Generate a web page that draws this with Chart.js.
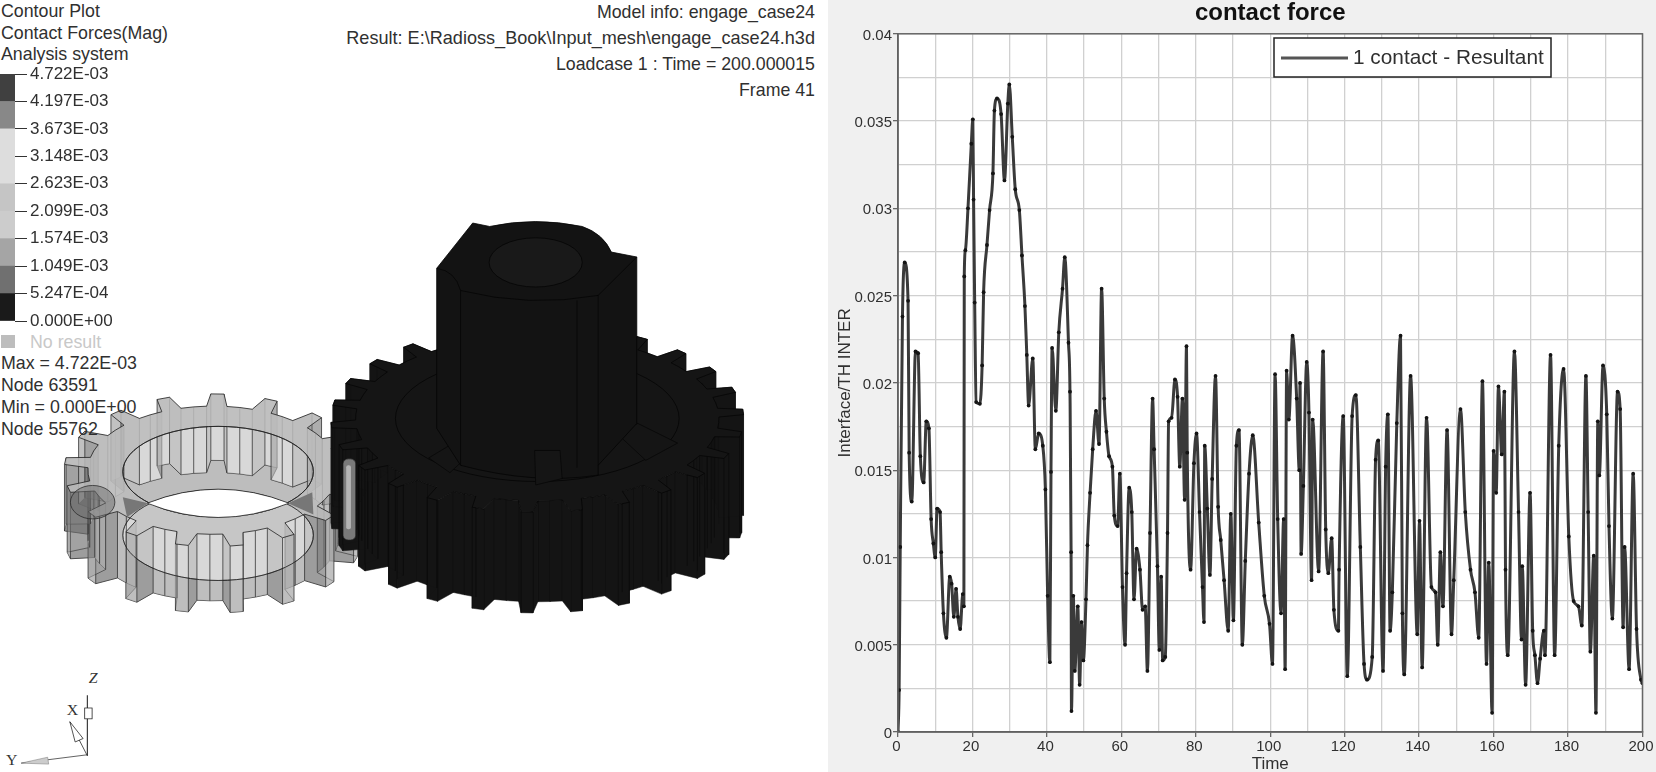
<!DOCTYPE html>
<html>
<head>
<meta charset="utf-8">
<script src="https://cdn.jsdelivr.net/npm/chart.js@4/dist/chart.umd.min.js"></script>
<style>
html, body { margin: 0; padding: 0; background: #fff; }
#page { position: relative; width: 1656px; height: 772px; overflow: hidden; font-family: "Liberation Sans", Arial, sans-serif; color: #303030; }
#rightPanel { position: absolute; left: 828px; top: 0; width: 828px; height: 772px; background: #f0f0f0; }
#forceChart { position: absolute; left: 828px; top: 0; }
#scaleChart { position: absolute; left: 0; top: 60px; }
#gears { position: absolute; left: 0; top: 0; }
.t { position: absolute; font-size: 17.8px; line-height: 20px; white-space: nowrap; }
.r { right: 841px; font-size: 17.75px; }
</style>
</head>
<body>
<div id="page">
  <svg id="gears" width="830" height="772" viewBox="0 0 1568 1568" preserveAspectRatio="none"></svg>
  <div class="t" style="left:1px;top:1px">Contour Plot</div>
  <div class="t" style="left:1px;top:23px">Contact Forces(Mag)</div>
  <div class="t" style="left:1px;top:44px">Analysis system</div>
  <div class="t" style="left:30px;top:332px;color:#c8c8c8">No result</div>
  <div style="position:absolute;left:1px;top:335px;width:14px;height:13px;background:#bdbdbd"></div>
  <div class="t" style="left:1px;top:353px">Max = 4.722E-03</div>
  <div class="t" style="left:1px;top:375px">Node 63591</div>
  <div class="t" style="left:1px;top:397px">Min = 0.000E+00</div>
  <div class="t" style="left:1px;top:419px">Node 55762</div>
  <div class="t r" style="top:2px">Model info: engage_case24</div>
  <div class="t r" style="top:28px;font-size:18.1px">Result: E:\Radioss_Book\Input_mesh\engage_case24.h3d</div>
  <div class="t r" style="top:54px">Loadcase 1 : Time = 200.000015</div>
  <div class="t r" style="top:80px">Frame 41</div>
  <canvas id="scaleChart" width="130" height="275"></canvas>
  <div id="rightPanel"></div>
  <canvas id="forceChart" width="828" height="772"></canvas>
</div>
<script>
var timeValues = [0,0.3,0.6,1.2,1.8,2.7,3,3.7,4.7,5.4,6,6.9,7.6,8.3,8.9,9.5,10,10.5,11.3,11.6,12.2,13,13.9,14.4,15,15.6,16.1,16.7,17.4,17.7,17.8,18.1,18.8,19.7,20.1,20.3,20.6,21,22,22.6,23,23.9,24.6,25.5,25.9,26.6,27.7,28.6,29.5,29.9,30.7,31.5,32.6,33.3,34.1,34.6,35.1,36.2,36.9,37.8,38.9,39.6,40.2,40.8,41.1,41.4,42.4,43.2,44.2,44.8,45.8,46.2,46.5,46.6,47.1,47.5,48.3,48.8,49.3,49.8,50.5,50.9,51.6,52.3,53.2,54,54.7,55.4,56,56.7,57.6,58.1,59,59.6,60.3,61,61.4,62.1,62.8,63.4,64.1,65,65.7,66.4,67,67.7,68.4,68.8,69.7,70.2,70.7,71.1,71.8,72.4,72.7,73.5,74.4,75.1,75.7,76.4,77,77.5,77.7,78.6,79.5,80.2,81,81.8,82.2,82.4,83.1,83.8,84.4,85.3,86,86.7,87.6,88.7,89.4,90.1,90.9,91.6,92.5,93.3,94.3,95.3,96.9,98.4,99.8,100.6,101.3,102,102.9,103.6,104,104.4,105,106,107.1,107.8,108,108.3,108.9,109.8,110.4,111.1,111.4,113,114.2,114.9,115.6,116.5,117.1,118.3,118.5,119.6,120.7,122,123,124.2,125.2,126,127.4,128.3,129,130.3,131,131.6,132.2,132.8,134,135,135.5,136,137.7,139.5,140.1,140.8,142,143.3,144.4,145,145.7,146.4,147.5,148.7,149.3,151.1,152.4,153.8,155,156,157,158.1,158.7,159.6,160,160.7,161.3,162.2,162.9,163.2,163.8,165.6,166.7,167.5,167.7,168.6,169.8,170.5,171.1,171.8,172.5,173.5,173.8,175.3,176.4,177.5,178.8,180.2,181.5,182.8,183.7,184.8,185.4,186,186.9,187.5,188,188.4,189.4,190.4,191,191.9,193.3,194,194.8,195.2,196.4,197.5,198.4,199.6,200];
var contactForce = [0,0.0024,0.0106,0.0238,0.0269,0.0247,0.016,0.0132,0.0218,0.0217,0.0158,0.0143,0.0178,0.0174,0.0122,0.0108,0.01,0.0128,0.0126,0.0103,0.0068,0.0054,0.0089,0.0085,0.0066,0.0082,0.0066,0.0059,0.0079,0.0072,0.0261,0.0276,0.03,0.0337,0.0351,0.0305,0.0246,0.0189,0.0188,0.021,0.0252,0.0279,0.0299,0.032,0.0356,0.0363,0.0354,0.0316,0.036,0.0371,0.0341,0.0311,0.0299,0.0273,0.0244,0.0216,0.0187,0.0214,0.0162,0.0171,0.0164,0.0139,0.0078,0.004,0.0149,0.022,0.0184,0.0229,0.0254,0.0272,0.0223,0.0195,0.0103,0.0012,0.0078,0.0035,0.0072,0.0027,0.0063,0.0041,0.0076,0.0107,0.0137,0.0162,0.0184,0.0165,0.0254,0.0191,0.0172,0.0158,0.0152,0.0124,0.0118,0.0148,0.0083,0.005,0.0091,0.014,0.0126,0.0076,0.0105,0.0093,0.007,0.0072,0.0035,0.0114,0.0191,0.0162,0.0095,0.0047,0.0089,0.0041,0.0043,0.0114,0.0178,0.018,0.0202,0.0192,0.0152,0.0191,0.0133,0.0221,0.016,0.0093,0.0154,0.0171,0.0126,0.0083,0.0063,0.0164,0.0128,0.009,0.0145,0.0204,0.0129,0.011,0.0087,0.0058,0.0125,0.0064,0.0164,0.0173,0.005,0.0098,0.0148,0.017,0.012,0.0078,0.0062,0.0039,0.0205,0.0122,0.0068,0.0122,0.0036,0.0207,0.0179,0.0227,0.0191,0.015,0.02,0.0102,0.0141,0.0212,0.0183,0.0087,0.0179,0.0092,0.0218,0.0116,0.0091,0.0111,0.007,0.0058,0.0093,0.0181,0.0032,0.0181,0.0193,0.0106,0.0039,0.003,0.0043,0.0156,0.0167,0.0035,0.0152,0.0182,0.0058,0.008,0.0177,0.0227,0.0068,0.0033,0.0204,0.0056,0.0121,0.0037,0.018,0.0083,0.008,0.005,0.0103,0.0072,0.0173,0.0056,0.0087,0.0185,0.0126,0.0093,0.008,0.0054,0.0201,0.0039,0.0097,0.0011,0.0161,0.0137,0.0198,0.0159,0.0195,0.0093,0.0044,0.0218,0.0126,0.0053,0.0095,0.0027,0.0137,0.0058,0.0044,0.0028,0.0042,0.0058,0.0044,0.0216,0.0044,0.0164,0.0208,0.0112,0.0075,0.0072,0.0061,0.0204,0.0126,0.0046,0.0101,0.0011,0.0178,0.0147,0.021,0.0182,0.0118,0.0065,0.0195,0.0185,0.006,0.0106,0.0036,0.0148,0.0059,0.003,0.0028];
var xTickLabels = ['0','20','40','60','80','100','120','140','160','180','200'];
var yTickLabels = ['0','0.005','0.01','0.015','0.02','0.025','0.03','0.035','0.04'];
var scaleLevels = [0,0.0005247,0.001049,0.001574,0.002099,0.002623,0.003148,0.003673,0.004197,0.004722];
var scaleLabels = ['0.000E+00','5.247E-04','1.049E-03','1.574E-03','2.099E-03','2.623E-03','3.148E-03','3.673E-03','4.197E-03','4.722E-03'];
var scaleColors = ['#1a1a1a','#707070','#a5a5a5','#cccccc','#c5c5c5','#dddddd','#dddddd','#888888','#404040'];

var plotFrame = {
    id: 'plotFrame',
    beforeDraw: function(chart) {
        var a = chart.chartArea, ctx = chart.ctx;
        ctx.save();
        ctx.fillStyle = '#fff';
        ctx.fillRect(a.left, a.top, a.width, a.height);
        ctx.restore();
    },
    afterDraw: function(chart) {
        var a = chart.chartArea, ctx = chart.ctx;
        ctx.save();
        ctx.strokeStyle = '#666';
        ctx.lineWidth = 1.5;
        ctx.strokeRect(a.left, a.top, a.width, a.height);
        // legend box sits inside the plot
        var bx = 446, by = 38, bw = 277, bh = 39;
        ctx.fillStyle = '#fff';
        ctx.fillRect(bx, by, bw, bh);
        ctx.strokeStyle = '#222';
        ctx.strokeRect(bx, by, bw, bh);
        ctx.strokeStyle = '#555';
        ctx.lineWidth = 3;
        ctx.beginPath();
        ctx.moveTo(bx + 7, by + 20);
        ctx.lineTo(bx + 74, by + 20);
        ctx.stroke();
        ctx.fillStyle = '#303030';
        ctx.font = '20.8px "Liberation Sans", Arial, sans-serif';
        ctx.textBaseline = 'middle';
        ctx.fillText(chart.data.datasets[0].label, bx + 79, by + 20);
        ctx.restore();
    }
};

new Chart(document.getElementById('forceChart'), {
    type: 'line',
    data: {
        datasets: [{
            label: '1 contact - Resultant',
            data: timeValues.map(function(t, i) { return { x: t, y: contactForce[i] }; }),
            borderColor: '#3a3a3a',
            borderWidth: 3,
            borderJoinStyle: 'round',
            cubicInterpolationMode: 'monotone',
            pointRadius: 1.9,
            pointBackgroundColor: '#141414',
            pointBorderWidth: 0
        }]
    },
    options: {
        responsive: false,
        animation: false,
        layout: { padding: { right: 12 } },
        plugins: {
            legend: { display: false },
            title: {
                display: true,
                fullSize: false,
                text: 'contact force',
                color: '#111',
                font: { family: '"Liberation Sans", Arial, sans-serif', size: 24, weight: 'bold', lineHeight: 1.2 },
                padding: { top: -1, bottom: 6 }
            }
        },
        scales: {
            x: {
                type: 'linear',
                min: 0,
                max: 200,
                afterFit: function(s) { s.height = 40; },
                ticks: {
                    stepSize: 10,
                    autoSkip: false,
                    maxRotation: 0,
                    padding: 1,
                    labelOffset: -1.5,
                    color: '#303030',
                    font: { family: '"Liberation Sans", Arial, sans-serif', size: 15 },
                    callback: function(v, i) { return i % 2 === 0 ? xTickLabels[i / 2] : ''; }
                },
                grid: {
                    color: '#d0d0d0',
                    lineWidth: 1.3,
                    tickLength: 5,
                    tickColor: function(c) { return c.index % 2 === 0 ? '#666' : 'rgba(0,0,0,0)'; }
                },
                border: { color: '#555', width: 1.5 },
                title: {
                    display: true,
                    text: 'Time',
                    color: '#303030',
                    font: { family: '"Liberation Sans", Arial, sans-serif', size: 17, lineHeight: 1.2 },
                    padding: { top: 0, bottom: -3 }
                }
            },
            y: {
                min: 0,
                max: 0.04,
                afterFit: function(s) { s.width = 70; },
                ticks: {
                    stepSize: 0.0025,
                    autoSkip: false,
                    padding: 1,
                    labelOffset: 2,
                    color: '#303030',
                    font: { family: '"Liberation Sans", Arial, sans-serif', size: 15 },
                    callback: function(v, i) { return i % 2 === 0 ? yTickLabels[i / 2] : ''; }
                },
                grid: {
                    color: '#d0d0d0',
                    lineWidth: 1.3,
                    tickLength: 5,
                    tickColor: function(c) { return c.index % 2 === 0 ? '#666' : 'rgba(0,0,0,0)'; }
                },
                border: { color: '#555', width: 1.5 },
                title: {
                    display: true,
                    text: 'Interface/TH INTER',
                    color: '#303030',
                    font: { family: '"Liberation Sans", Arial, sans-serif', size: 17, lineHeight: 1.2 },
                    padding: { top: 7, bottom: 0 }
                }
            }
        }
    },
    plugins: [plotFrame]
});

// contour scale as floating bars on the real level values
new Chart(document.getElementById('scaleChart'), {
    type: 'bar',
    data: {
        labels: [''],
        datasets: scaleColors.map(function(col, i) {
            return { data: [[scaleLevels[i], scaleLevels[i + 1]]], backgroundColor: col, borderWidth: 0, barPercentage: 1, categoryPercentage: 1, grouped: false };
        })
    },
    options: {
        responsive: false,
        animation: false,
        layout: { padding: { top: 14, bottom: 14, left: 0, right: 0 } },
        plugins: { legend: { display: false }, tooltip: { enabled: false } },
        scales: {
            x: { display: false, stacked: false },
            y: {
                position: 'right',
                min: 0,
                max: 0.004722,
                afterFit: function(s) { s.width = 115; },
                afterBuildTicks: function(s) { s.ticks = scaleLevels.map(function(v) { return { value: v }; }); },
                ticks: {
                    autoSkip: false,
                    padding: 3,
                    color: '#303030',
                    font: { family: '"Liberation Sans", Arial, sans-serif', size: 17 },
                    callback: function(v, i) { return scaleLabels[i]; }
                },
                grid: { drawOnChartArea: false, tickLength: 12, tickColor: '#333', lineWidth: 1 },
                border: { display: false }
            }
        }
    }
});

// gear illustration, not data
var svg = document.getElementById('gears');
function add(tag, attrs) {
    var el = document.createElementNS('http://www.w3.org/2000/svg', tag);
    for (var k in attrs) el.setAttribute(k, attrs[k]);
    svg.appendChild(el);
    return el;
}
function gearOutline(n, rx, ry, root, phase) {
    var pts = [];
    for (var i = 0; i < n; i++) {
        var a = phase + i * 2 * Math.PI / n, w = 2 * Math.PI / n;
        [[0, root], [0.28, root], [0.38, 1], [0.62, 1], [0.72, root]].forEach(function(p) {
            var th = a + p[0] * w;
            pts.push([rx * p[1] * Math.cos(th), ry * p[1] * Math.sin(th), p[1] === 1]);
        });
    }
    return pts;
}
function polyPath(pts, cx, cy) {
    return 'M' + pts.map(function(p) { return (cx + p[0]).toFixed(1) + ' ' + (cy + p[1]).toFixed(1); }).join('L') + 'Z';
}
function ellipsePath(cx, cy, rx, ry) {
    return 'M' + (cx - rx) + ' ' + cy + 'A' + rx + ' ' + ry + ' 0 1 0 ' + (cx + rx) + ' ' + cy + 'A' + rx + ' ' + ry + ' 0 1 0 ' + (cx - rx) + ' ' + cy + 'Z';
}

// small translucent gear
var small = gearOutline(17, 282, 155, 0.84, 0.12);
var sx = 403, syTop = 955, syBot = 1090;
add('path', { d: polyPath(small, sx, syBot) + ellipsePath(412, 1087, 180, 92), 'fill-rule': 'evenodd', fill: '#bdbdbd', stroke: '#222', 'stroke-width': 1.6 });
small.forEach(function(p, i) {
    var q = small[(i + 1) % small.length];
    var flank = p[2] !== q[2];
    var d = 'M' + (sx + p[0]) + ' ' + (syTop + p[1]) + 'L' + (sx + q[0]) + ' ' + (syTop + q[1]) + 'L' + (sx + q[0]) + ' ' + (syBot + q[1]) + 'L' + (sx + p[0]) + ' ' + (syBot + p[1]) + 'Z';
    add('path', { d: d, fill: flank ? 'rgba(110,110,110,.4)' : 'rgba(190,190,190,.6)', stroke: 'none' });
    add('line', { x1: sx + p[0], y1: syTop + p[1], x2: sx + p[0], y2: syBot + p[1], stroke: '#222', 'stroke-width': 1.4 });
});
add('path', { d: polyPath(small, sx, syTop) + ellipsePath(412, 958, 180, 92), 'fill-rule': 'evenodd', fill: 'rgba(188,188,188,.85)', stroke: '#222', 'stroke-width': 1.6 });
add('path', { d: ellipsePath(412, 958, 180, 92), fill: 'none', stroke: '#222', 'stroke-width': 1.6 });
add('path', { d: ellipsePath(412, 1087, 180, 92), fill: 'none', stroke: '#222', 'stroke-width': 1.6 });
// white lens through both rings
add('path', { d: 'M278 1022Q412 965 546 1022Q412 1080 278 1022Z', fill: '#fff', stroke: '#222', 'stroke-width': 1.6 });
add('path', { d: 'M232 1010L280 1022L240 1050Z', fill: '#777' });
add('path', { d: 'M590 1000L544 1022L592 1045Z', fill: '#777' });
add('ellipse', { cx: 175, cy: 1020, rx: 42, ry: 34, fill: 'rgba(110,110,110,.5)', stroke: '#222', 'stroke-width': 1.4 });

// big dark gear
var big = gearOutline(26, 390, 190, 0.88, 0.05);
var bx = 1015, byTop = 850, byBot = 1055;
big.forEach(function(p, i) {
    var q = big[(i + 1) % big.length];
    var d = 'M' + (bx + p[0]) + ' ' + (byTop + p[1]) + 'L' + (bx + q[0]) + ' ' + (byTop + q[1]) + 'L' + (bx + q[0]) + ' ' + (byBot + q[1]) + 'L' + (bx + p[0]) + ' ' + (byBot + p[1]) + 'Z';
    add('path', { d: d, fill: '#141414', stroke: '#141414', 'stroke-width': 1 });
});
big.forEach(function(p) {
    if (p[1] > 20) add('line', { x1: bx + p[0], y1: byTop + p[1], x2: bx + p[0], y2: byBot + p[1], stroke: '#0a0a0a', 'stroke-width': 1.5 });
});
add('path', { d: polyPath(big, bx, byTop), fill: '#151515', stroke: '#050505', 'stroke-width': 1.5 });
add('ellipse', { cx: 1015, cy: 850, rx: 268, ry: 128, fill: 'none', stroke: '#050505', 'stroke-width': 1.6 });
add('path', { d: 'M810 930L895 875L910 900L850 960Z', fill: '#151515', stroke: '#050505', 'stroke-width': 1.4 });
add('path', { d: 'M1165 880L1205 860L1280 900L1220 935Z', fill: '#151515', stroke: '#050505', 'stroke-width': 1.4 });
// hub
add('path', { d: 'M825 545L893 453L925 460Q1010 440 1100 460Q1140 475 1155 512L1203 522L1203 860L1130 945L1130 965Q1010 985 870 945L825 870Z', fill: '#131313', stroke: '#050505', 'stroke-width': 1.6 });
add('path', { d: 'M825 545Q860 550 870 590Q1000 625 1130 600L1203 522', fill: 'none', stroke: '#050505', 'stroke-width': 1.6 });
add('path', { d: 'M870 590L870 945M1130 600L1130 945M1090 610L1090 950', fill: 'none', stroke: '#050505', 'stroke-width': 1.4 });
add('ellipse', { cx: 1012, cy: 533, rx: 88, ry: 50, fill: '#191919', stroke: '#050505', 'stroke-width': 1.6 });
add('path', { d: 'M1010 915L1058 915L1062 972L1012 985Z', fill: '#151515', stroke: '#050505', 'stroke-width': 1.4 });
// contact patch where the gears touch
add('rect', { x: 648, y: 932, width: 24, height: 165, rx: 10, fill: '#7a7a7a', stroke: '#222', 'stroke-width': 1.4 });
add('rect', { x: 654, y: 945, width: 9, height: 130, rx: 4, fill: '#b5b5b5' });

// axis triad
add('path', { d: 'M165 1535V1412', stroke: '#222', 'stroke-width': 2, fill: 'none' });
add('rect', { x: 160, y: 1438, width: 14, height: 22, fill: '#fff', stroke: '#222', 'stroke-width': 1.5 });
add('path', { d: 'M165 1535L132 1466', stroke: '#222', 'stroke-width': 1.5, fill: 'none' });
add('path', { d: 'M132 1466L157 1500L142 1507Z', fill: '#fff', stroke: '#222', 'stroke-width': 1.5 });
add('path', { d: 'M165 1533L40 1550', stroke: '#333', 'stroke-width': 1.5, fill: 'none' });
add('path', { d: 'M40 1550L90 1538L92 1552Z', fill: '#ccc', stroke: '#777', 'stroke-width': 1 });
[['Z', 176, 1388, 'italic'], ['X', 137, 1452, 'normal'], ['Y', 22, 1554, 'normal']].forEach(function(l) {
    var t = add('text', { x: l[1], y: l[2], 'text-anchor': 'middle', 'font-family': '"Liberation Serif", serif', 'font-size': 30, 'font-style': l[3], fill: '#333' });
    t.textContent = l[0];
});
</script>
</body>
</html>
